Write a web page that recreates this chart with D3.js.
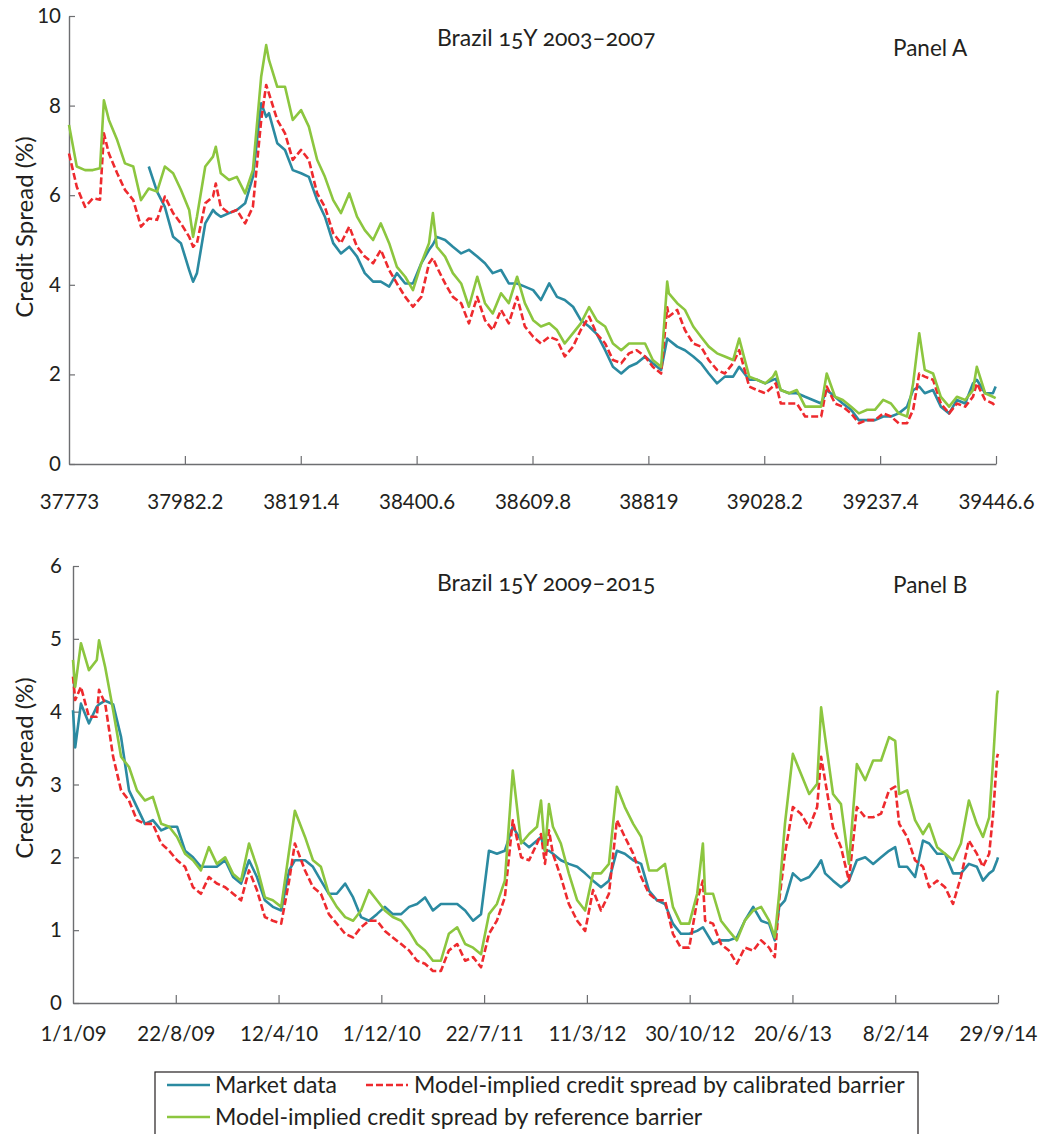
<!DOCTYPE html>
<html>
<head>
<meta charset="utf-8">
<script src="https://cdn.jsdelivr.net/npm/d3@7"></script>
<style>
  body { margin: 0; background: #fff; }
  svg { display: block; font-family: Lato, "Open Sans", sans-serif; }
</style>
</head>
<body>
<div id="wrapper"></div>
<script>
// ---- Panel A (Brazil 15Y 2003-2007), x = serial day numbers
let panelADays = [37773,37787,37802,37816,37829,37836,37845,37860,37874,37889,37903,37917,37932,37946,37961,37975,37990,37997,38004,38019,
  38033,38038,38047,38062,38076,38091,38105,38120,38129,38134,38149,38163,38177,38192,38206,38221,38235,38250,38264,38279,
  38293,38307,38322,38336,38351,38365,38380,38394,38409,38423,38430,38437,38452,38466,38481,38495,38510,38524,38538,38553,
  38567,38582,38596,38611,38625,38640,38654,38668,38683,38697,38712,38726,38741,38755,38770,38784,38798,38813,38827,38842,
  38853,38856,38871,38885,38900,38914,38928,38943,38957,38972,38983,39001,39015,39030,39044,39049,39058,39073,39087,39102,
  39116,39131,39141,39156,39170,39185,39199,39214,39228,39243,39257,39271,39286,39297,39308,39318,39333,39347,39362,39376,
  39391,39405,39412,39427,39441,39446];
let panelAMarket = [null,null,null,null,null,null,null,null,null,null,null,6.64,6.08,5.74,5.07,4.93,4.33,4.07,4.26,5.37,
  5.67,5.6,5.52,5.6,5.67,5.82,6.41,8.05,7.75,7.83,7.16,7.01,6.56,6.49,6.41,5.89,5.52,4.93,4.7,4.85,
  4.63,4.26,4.07,4.07,3.96,4.26,4.03,4.03,4.48,4.78,4.9,5.07,5.0,4.85,4.7,4.78,4.63,4.48,4.26,4.33,
  4.03,4.03,3.96,3.88,3.66,4.03,3.73,3.66,3.51,3.21,3.07,2.9,2.54,2.17,2.02,2.17,2.25,2.4,2.25,2.1,
  2.8,2.77,2.62,2.54,2.4,2.25,2.02,1.8,1.95,1.95,2.17,1.88,1.88,1.8,1.88,1.9,1.65,1.58,1.58,1.5,
  1.43,1.35,1.65,1.5,1.35,1.21,0.98,0.98,0.98,1.06,1.06,1.13,1.28,1.65,1.73,1.58,1.65,1.28,1.13,1.43,
  1.35,1.8,1.88,1.58,1.58,1.73];
let panelACalibrated = [6.93,6.19,5.74,5.93,5.9,7.38,6.93,6.49,6.12,5.89,5.3,5.48,5.45,5.97,5.6,5.37,5.07,4.85,4.93,5.82,
  5.97,6.26,5.74,5.6,5.67,5.37,5.74,7.68,8.46,8.27,7.68,7.38,6.79,7.01,6.79,6.04,5.74,5.15,4.93,5.3,
  4.85,4.63,4.48,4.78,4.33,4.03,3.73,3.51,3.73,4.48,4.6,4.4,4.03,3.73,3.59,3.14,3.73,3.21,2.99,3.44,
  3.14,3.73,3.07,2.84,2.69,2.84,2.77,2.4,2.62,2.99,3.29,2.9,2.69,2.32,2.25,2.47,2.54,2.4,2.17,2.02,
  3.5,3.29,3.44,2.99,2.69,2.62,2.32,2.1,2.02,2.25,2.54,1.73,1.65,1.58,1.73,1.8,1.35,1.35,1.35,1.06,
  1.06,1.06,1.73,1.35,1.28,1.13,0.91,0.98,0.98,1.13,1.06,0.91,0.91,1.21,2.02,1.95,1.88,1.35,1.13,1.35,
  1.28,1.5,1.8,1.43,1.35,1.28];
let panelAReference = [7.57,6.64,6.56,6.56,6.6,8.12,7.68,7.23,6.71,6.64,5.89,6.15,6.08,6.64,6.49,6.12,5.67,5.07,5.52,6.64,
  6.86,7.08,6.49,6.34,6.41,6.04,6.56,8.65,9.35,9.02,8.42,8.42,7.68,7.9,7.53,6.79,6.41,5.89,5.6,6.04,
  5.52,5.22,5.0,5.37,4.93,4.4,4.18,3.88,4.48,4.93,5.6,4.85,4.63,4.26,4.03,3.51,4.18,3.59,3.36,3.81,
  3.59,4.18,3.59,3.21,3.07,3.14,2.99,2.69,2.92,3.14,3.5,3.2,3.07,2.69,2.54,2.69,2.69,2.69,2.32,2.17,
  4.07,3.81,3.59,3.44,3.07,2.84,2.62,2.47,2.4,2.32,2.8,1.95,1.88,1.8,1.95,2.06,1.65,1.58,1.65,1.28,
  1.28,1.28,2.02,1.5,1.43,1.28,1.13,1.21,1.21,1.43,1.35,1.13,1.06,1.8,2.92,2.1,2.02,1.5,1.28,1.5,
  1.43,1.65,2.17,1.58,1.5,1.47];
let panelATicks = [37773,37982.2,38191.4,38400.6,38609.8,38819,39028.2,39237.4,39446.6];
let panelAYTicks = [0,2,4,6,8,10];

// ---- Panel B (Brazil 15Y 2009-2015), x = serial day numbers
let panelBDays = [39814,39819,39832,39850,39868,39873,39887,39905,39923,39941,39959,39977,39995,40014,40032,40050,40068,40086,40104,40122,
  40140,40159,40177,40195,40213,40231,40249,40267,40286,40304,40317,40340,40358,40376,40394,40412,40431,40449,40467,40485,
  40503,40521,40539,40558,40576,40594,40612,40630,40648,40666,40685,40703,40721,40739,40757,40775,40793,40811,40830,40848,
  40866,40875,40884,40893,40902,40920,40938,40957,40975,40993,41011,41029,41047,41065,41084,41102,41120,41138,41156,41174,
  41192,41211,41229,41242,41247,41265,41283,41301,41319,41337,41356,41374,41392,41405,41415,41428,41446,41464,41483,41501,
  41510,41519,41537,41555,41573,41591,41610,41628,41646,41664,41678,41687,41705,41723,41741,41755,41773,41791,41809,41827,
  41845,41863,41877,41891,41900,41909,41911];
let panelBMarket = [4.02,3.51,4.11,3.84,4.07,4.1,4.15,4.1,3.65,2.92,2.69,2.46,2.51,2.37,2.42,2.42,2.09,2.0,1.87,1.87,
  1.87,1.96,1.73,1.64,1.96,1.73,1.41,1.32,1.27,1.82,1.96,1.96,1.87,1.68,1.5,1.5,1.64,1.45,1.18,1.13,
  1.22,1.32,1.22,1.22,1.32,1.36,1.45,1.27,1.36,1.36,1.36,1.27,1.13,1.22,2.09,2.05,2.09,2.42,2.23,2.14,
  2.23,2.28,2.09,2.09,2.05,1.96,1.91,1.87,1.78,1.68,1.59,1.68,2.09,2.05,1.96,1.91,1.54,1.41,1.36,1.09,
  0.95,0.95,0.99,1.04,0.99,0.81,0.86,0.86,0.9,1.13,1.32,1.13,1.09,0.86,1.32,1.41,1.78,1.68,1.73,1.87,
  1.96,1.78,1.68,1.59,1.68,1.96,2.0,1.91,2.0,2.09,2.14,1.87,1.87,1.73,2.23,2.19,2.05,2.05,1.78,1.78,
  1.91,1.87,1.68,1.78,1.82,1.96,2.0];
let panelBCalibrated = [4.48,4.16,4.34,3.93,3.93,4.3,4.11,3.38,2.92,2.78,2.51,2.46,2.46,2.19,2.09,1.96,1.87,1.59,1.5,1.73,
  1.64,1.59,1.5,1.41,1.82,1.55,1.18,1.13,1.09,1.68,2.19,1.82,1.59,1.5,1.22,1.09,0.95,0.9,1.04,1.13,
  1.13,0.99,0.9,0.81,0.72,0.58,0.54,0.44,0.44,0.72,0.81,0.58,0.63,0.49,0.95,1.13,1.45,2.51,2.0,1.96,
  2.19,2.32,1.91,2.37,2.05,1.73,1.36,1.13,0.99,1.55,1.27,1.5,2.51,2.28,2.05,1.73,1.5,1.41,1.41,0.95,
  0.76,0.76,1.41,1.68,1.13,1.09,0.81,0.72,0.54,0.76,0.72,0.86,0.76,0.63,1.41,2.05,2.69,2.6,2.41,2.69,
  3.38,3.06,2.41,2.14,1.68,2.69,2.55,2.55,2.6,2.92,2.97,2.46,2.28,1.96,1.87,1.59,1.68,1.59,1.36,1.73,
  2.23,2.05,1.87,2.05,2.6,3.38,3.42];
let panelBReference = [4.71,4.34,4.94,4.57,4.71,4.98,4.61,4.02,3.38,3.24,2.92,2.78,2.83,2.46,2.42,2.28,2.05,1.96,1.82,2.14,
  1.91,2.0,1.77,1.68,2.19,1.87,1.45,1.41,1.32,2.09,2.64,2.28,1.96,1.87,1.5,1.32,1.18,1.13,1.27,1.55,
  1.41,1.27,1.18,1.13,0.99,0.81,0.72,0.58,0.58,0.95,1.04,0.81,0.76,0.67,1.22,1.36,1.68,3.19,2.19,2.32,
  2.42,2.78,2.09,2.73,2.42,2.19,1.78,1.41,1.27,1.78,1.78,1.91,2.97,2.69,2.46,2.28,1.82,1.82,1.91,1.32,
  1.09,1.09,1.5,2.19,1.5,1.5,1.13,0.99,0.86,1.13,1.27,1.32,1.13,0.9,1.5,2.46,3.42,3.15,2.87,3.01,
  4.06,3.65,2.87,2.73,1.91,3.28,3.06,3.33,3.33,3.65,3.6,2.87,2.92,2.51,2.32,2.46,2.14,2.05,1.96,2.19,
  2.78,2.46,2.28,2.55,3.33,4.24,4.29];
let panelBTicks = [39814,40047,40280,40513,40746,40979,41212,41445,41678,41911];
let panelBYTicks = [0,1,2,3,4,5,6];

let seriesNames = ['Market data', 'Model-implied credit spread by calibrated barrier', 'Model-implied credit spread by reference barrier'];
let colors = ['#2b8aa1', '#ee2a2e', '#8cc63f'];

let textColor = '#231f20',
    axisColor = '#6d6e71';

let canvas = d3.select('#wrapper')
  .append('svg')
  .attr('width', 1042)
  .attr('height', 1134);

canvas.append('rect').attr('width', 1042).attr('height', 1134).attr('fill', '#fff');

// serial day number -> d/m/yy
function serialLabel (s) {
  let d = new Date(Date.UTC(1899, 11, 30) + s * 86400000);
  return d.getUTCDate() + '/' + (d.getUTCMonth() + 1) + '/' + String(d.getUTCFullYear()).slice(2);
}

function drawPanel (p) {
  let xscale = d3.scaleLinear().domain(p.xDomain).range(p.xRange);
  let yscale = d3.scaleLinear().domain(p.yDomain).range(p.yRange);

  let xAxis = d3.axisBottom(xscale)
    .tickValues(p.xTicks)
    .tickFormat(p.xFormat)
    .tickSizeInner(-8)
    .tickSizeOuter(0)
    .tickPadding(p.xPad);

  let yAxis = d3.axisLeft(yscale)
    .tickValues(p.yTicks)
    .tickFormat(d3.format('d'))
    .tickSizeInner(-6)
    .tickSizeOuter(0)
    .tickPadding(p.yPad);

  let gx = canvas.append('g')
    .attr('transform', 'translate(0,' + p.yRange[0] + ')')
    .call(xAxis);
  let gy = canvas.append('g')
    .attr('transform', 'translate(' + p.xRange[0] + ',0)')
    .call(yAxis);

  [gx, gy].forEach(function (g) {
    g.select('.domain').attr('stroke', axisColor).attr('stroke-width', 1.4);
    g.selectAll('.tick line').attr('stroke', axisColor).attr('stroke-width', 1.2);
    g.selectAll('.tick text')
      .attr('fill', textColor)
      .style('font-family', 'Lato, sans-serif')
      .style('font-size', '20.5px');
  });
  gx.selectAll('.tick').filter(function (d, i) { return i === 0; }).select('line').remove();

  let series = [p.market, p.calibrated, p.reference];
  series.forEach(function (vals, k) {
    let pts = p.days.map(function (d, i) { return [d, vals[i]]; });
    let line = d3.line()
      .defined(function (d) { return d[1] !== null; })
      .x(function (d) { return xscale(d[0]); })
      .y(function (d) { return yscale(d[1]); });
    canvas.append('path')
      .datum(pts)
      .attr('d', line)
      .attr('fill', 'none')
      .attr('stroke', colors[k])
      .attr('stroke-width', 2.6)
      .attr('stroke-linejoin', 'round')
      .attr('stroke-dasharray', k === 1 ? '7,3' : null);
  });

  canvas.append('text')
    .attr('x', 437).attr('y', p.titleY)
    .attr('fill', textColor)
    .style('font-size', '23px')
    .style('font-variant-numeric', 'oldstyle-nums')
    .text(p.title);

  canvas.append('text')
    .attr('x', 893).attr('y', p.panelY)
    .attr('fill', textColor)
    .style('font-size', '22.5px')
    .text(p.panel);

  canvas.append('text')
    .attr('transform', 'translate(33,' + p.labelY + ') rotate(-90)')
    .attr('text-anchor', 'middle')
    .attr('fill', textColor)
    .style('font-size', '24px')
    .text('Credit Spread (%)');
}

drawPanel({
  days: panelADays, market: panelAMarket, calibrated: panelACalibrated, reference: panelAReference,
  xDomain: [37773, 39446.6], xRange: [69, 996],
  yDomain: [0, 10], yRange: [464, 16],
  xTicks: panelATicks, xFormat: function (d) { return String(d); }, xPad: 30,
  yTicks: panelAYTicks, yPad: 8,
  title: 'Brazil 15Y 2003–2007', titleY: 46,
  panel: 'Panel A', panelY: 56,
  labelY: 227
});

drawPanel({
  days: panelBDays, market: panelBMarket, calibrated: panelBCalibrated, reference: panelBReference,
  xDomain: [39814, 41911], xRange: [73, 998],
  yDomain: [0, 6], yRange: [1003, 566],
  xTicks: panelBTicks, xFormat: serialLabel, xPad: 23,
  yTicks: panelBYTicks, yPad: 11,
  title: 'Brazil 15Y 2009–2015', titleY: 591,
  panel: 'Panel B', panelY: 593,
  labelY: 768
});

// legend
let legend = canvas.append('g');
legend.append('rect')
  .attr('x', 155).attr('y', 1072)
  .attr('width', 763).attr('height', 80)
  .attr('fill', '#fff')
  .attr('stroke', '#231f20')
  .attr('stroke-width', 1.2);

let legendItems = [
  { x1: 167, x2: 210, y: 1085, tx: 215, ty: 1093 },
  { x1: 366, x2: 408, y: 1085, tx: 414, ty: 1093 },
  { x1: 167, x2: 210, y: 1117, tx: 215, ty: 1125 }
];
legendItems.forEach(function (it, k) {
  legend.append('line')
    .attr('x1', it.x1).attr('x2', it.x2)
    .attr('y1', it.y).attr('y2', it.y)
    .attr('stroke', colors[k])
    .attr('stroke-width', 2.6)
    .attr('stroke-dasharray', k === 1 ? '7,3' : null);
  legend.append('text')
    .attr('x', it.tx).attr('y', it.ty)
    .attr('fill', textColor)
    .style('font-size', '23px')
    .text(seriesNames[k]);
});
</script>
</body>
</html>
